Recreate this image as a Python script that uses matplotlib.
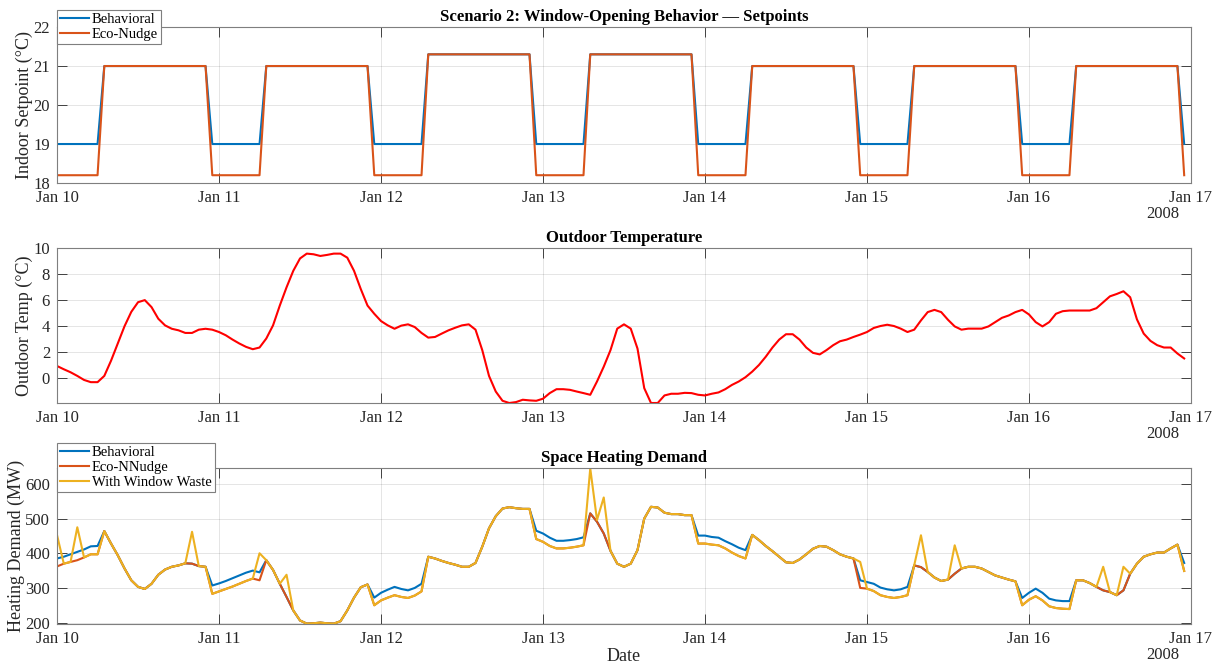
import numpy as np
import pandas as pd
import matplotlib
matplotlib.use("Agg")
import matplotlib.pyplot as plt
import matplotlib.dates as mdates

plt.rcParams['font.family'] = ['Liberation Serif', 'DejaVu Serif']
plt.rcParams['mathtext.fontset'] = 'stix'

######################################
# hourly data, Jan 10 00:00 -> Jan 16 23:00 (2008)
start = "2008-01-10"
n_hours = 168

# setpoint schedule
day_setpoint   = [21, 21, 21.3, 21.3, 21, 21, 21]   # one value per day
night_behav    = 19.0
night_eco      = 18.2
occupied_hours = list(range(7, 23))                 # 07:00 .. 22:00

outdoor_temp = [
    0.94, 0.69, 0.46, 0.18, -0.13, -0.30, -0.30, 0.18, 1.35, 2.67, 4.00, 5.10,
    5.84, 6.00, 5.46, 4.57, 4.06, 3.80, 3.68, 3.48, 3.48, 3.73, 3.80, 3.73,
    3.55, 3.30, 2.97, 2.67, 2.41, 2.23, 2.36, 3.05, 4.06, 5.58, 6.98, 8.25,
    9.20, 9.57, 9.52, 9.39, 9.47, 9.57, 9.57, 9.26, 8.25, 6.85, 5.58, 4.95,
    4.39, 4.06, 3.80, 4.04, 4.14, 3.93, 3.48, 3.12, 3.17, 3.43, 3.68, 3.88,
    4.06, 4.14, 3.73, 2.16, 0.18, -1.02, -1.73, -1.90, -1.83, -1.65, -1.70, -1.73,
    -1.57, -1.14, -0.84, -0.84, -0.89, -1.02, -1.14, -1.27, -0.25, 0.89, 2.16, 3.81,
    4.14, 3.81, 2.28, -0.76, -1.90, -1.90, -1.32, -1.19, -1.19, -1.12, -1.14, -1.27,
    -1.32, -1.19, -1.09, -0.84, -0.51, -0.25, 0.08, 0.51, 1.02, 1.65, 2.36, 2.97,
    3.38, 3.38, 2.97, 2.36, 1.95, 1.83, 2.16, 2.54, 2.84, 2.97, 3.17, 3.35,
    3.55, 3.86, 4.01, 4.11, 4.01, 3.81, 3.55, 3.73, 4.44, 5.08, 5.25, 5.08,
    4.49, 3.98, 3.73, 3.81, 3.81, 3.81, 3.98, 4.31, 4.64, 4.82, 5.08, 5.25,
    4.90, 4.31, 3.98, 4.31, 4.95, 5.15, 5.20, 5.20, 5.20, 5.20, 5.38, 5.84,
    6.29, 6.47, 6.68, 6.22, 4.52, 3.43, 2.87, 2.54, 2.36, 2.36, 1.90, 1.57,
]
outdoor_temp = outdoor_temp[:n_hours - 1] + [1.52]

heat_behavioral = [
    385, 390, 397, 404, 411, 420, 421, 464, 428, 394, 356, 322, 303, 297, 312, 338, 353, 361, 365, 371, 370, 363, 361, 307,
    313, 320, 328, 336, 344, 350, 345, 380, 352, 312, 274, 235, 206, 197, 198, 200, 198, 197, 204, 235, 272, 302, 310, 272,
    286, 295, 303, 297, 293, 300, 312, 390, 385, 378, 372, 367, 361, 361, 372, 419, 472, 507, 529, 533, 530, 528, 528, 465,
    457, 445, 436, 436, 438, 441, 446, 515, 491, 457, 407, 370, 361, 370, 409, 500, 534, 532, 517, 513, 513, 510, 510, 451,
    451, 447, 445, 435, 426, 416, 409, 453, 438, 421, 406, 390, 374, 372, 382, 397, 413, 421, 419, 409, 397, 390, 385, 322,
    317, 312, 301, 296, 293, 296, 303, 365, 360, 346, 330, 320, 324, 341, 356, 361, 361, 356, 346, 336, 330, 324, 319, 271,
    286, 298, 286, 269, 264, 262, 262, 322, 322, 314, 303, 293, 288, 279, 293, 341, 370, 390, 397, 402, 402, 414, 425, 372,
]
heat_eco = [
    362, 370, 375, 380, 388, 397, 397, 464, 428, 394, 356, 322, 303, 297, 312, 338, 353, 361, 365, 371, 370, 363, 361, 283,
    290, 297, 304, 312, 320, 327, 322, 380, 352, 312, 274, 235, 206, 197, 198, 200, 198, 197, 204, 235, 272, 302, 310, 250,
    264, 272, 279, 274, 271, 278, 290, 390, 385, 378, 372, 367, 361, 361, 372, 419, 472, 507, 529, 533, 530, 528, 528, 441,
    433, 421, 414, 414, 416, 419, 423, 515, 491, 457, 407, 370, 361, 370, 409, 500, 534, 532, 517, 513, 513, 510, 510, 428,
    428, 425, 423, 414, 402, 392, 385, 453, 438, 421, 406, 390, 374, 372, 382, 397, 413, 421, 419, 409, 397, 390, 385, 300,
    298, 291, 279, 274, 271, 274, 279, 365, 360, 346, 330, 320, 324, 341, 356, 361, 361, 356, 346, 336, 330, 324, 319, 250,
    266, 276, 264, 247, 242, 240, 239, 322, 322, 314, 303, 293, 288, 279, 293, 341, 370, 390, 397, 402, 402, 414, 425, 349,
]
heat_window = [
    452, 370, 375, 475, 388, 397, 397, 464, 428, 394, 356, 322, 303, 297, 312, 338, 353, 361, 365, 371, 462, 363, 361, 283,
    290, 297, 304, 312, 320, 327, 400, 380, 352, 312, 338, 235, 206, 197, 198, 200, 198, 197, 204, 235, 272, 302, 310, 250,
    264, 272, 279, 274, 271, 278, 290, 390, 385, 378, 372, 367, 361, 361, 372, 419, 472, 507, 529, 533, 530, 528, 528, 441,
    433, 421, 414, 414, 416, 419, 423, 645, 496, 561, 407, 370, 361, 370, 409, 500, 534, 532, 517, 513, 513, 510, 510, 428,
    428, 425, 423, 414, 402, 392, 385, 453, 438, 421, 406, 390, 374, 372, 382, 397, 413, 421, 419, 409, 397, 390, 385, 375,
    298, 291, 279, 274, 271, 274, 279, 365, 452, 346, 330, 320, 324, 423, 356, 361, 361, 356, 346, 336, 330, 324, 319, 250,
    266, 276, 264, 247, 242, 240, 239, 322, 322, 314, 303, 361, 288, 279, 361, 341, 370, 390, 397, 402, 402, 414, 425, 349,
]
######################################
c_blue   = '#0072BD'
c_orange = '#D95319'
c_yellow = '#EDB120'
axcolor  = '#262626'
ticksize = 12
labsize  = 13
lw       = 1.5
######################################

t = pd.date_range(start, periods=n_hours, freq='h')
hour = t.hour.values
day = (t.normalize() - t[0].normalize()).days.values

setpoint_behav = []
setpoint_eco = []
for d, h in zip(day, hour):
    if h in occupied_hours:
        setpoint_behav.append(day_setpoint[d])
        setpoint_eco.append(day_setpoint[d])
    else:
        setpoint_behav.append(night_behav)
        setpoint_eco.append(night_eco)

fig = plt.figure(figsize=(12.14, 6.66), dpi=100)
ax1 = fig.add_axes([0.047, 0.7252, 0.934, 0.2342])
ax2 = fig.add_axes([0.047, 0.3949, 0.934, 0.2327])
ax3 = fig.add_axes([0.047, 0.0631, 0.934, 0.2342])


def style(ax):
    ax.set_xlim(pd.Timestamp("2008-01-10"), pd.Timestamp("2008-01-17"))
    ax.xaxis.set_major_locator(mdates.DayLocator())
    ax.xaxis.set_major_formatter(mdates.DateFormatter('%b %d'))
    ax.tick_params(direction='in', length=7, width=0.6, top=True, right=True,
                   labelsize=ticksize, colors=axcolor, pad=5)
    ax.grid(True, color='#000000', alpha=0.12, linewidth=0.6)
    for s in ax.spines.values():
        s.set_color('#7f7f7f')
        s.set_linewidth(0.8)
    ax.annotate('2008', xy=(0.975, 0), xycoords='axes fraction', xytext=(0, -22),
                textcoords='offset points', ha='center', va='center',
                fontsize=ticksize, color=axcolor)


def add_legend(ax, y_anchor):
    leg = ax.legend(loc='upper left', bbox_to_anchor=(0, y_anchor), borderaxespad=0,
                    fontsize=10.5, fancybox=False, framealpha=1, edgecolor='#7f7f7f',
                    handlelength=2.0, labelspacing=0.12, borderpad=0.2,
                    handletextpad=0.2)
    leg.get_frame().set_linewidth(0.8)


# ---- setpoints
ax1.plot(t, setpoint_behav, color=c_blue, lw=lw, label='Behavioral')
ax1.plot(t, setpoint_eco, color=c_orange, lw=lw, label='Eco-Nudge')
ax1.set_ylim([18, 22])
ax1.set_yticks([18, 19, 20, 21, 22])
style(ax1)
ax1.set_ylabel('Indoor Setpoint (°C)', fontsize=labsize, color=axcolor, labelpad=0)
ax1.set_title('Scenario 2: Window-Opening Behavior — Setpoints', fontsize=12,
              fontweight='bold', pad=4)
add_legend(ax1, 1.109)

# ---- outdoor temperature
ax2.plot(t, outdoor_temp, color='r', lw=lw)
ax2.set_ylim([min(outdoor_temp), 10])
ax2.set_yticks([0, 2, 4, 6, 8, 10])
style(ax2)
ax2.set_ylabel('Outdoor Temp (°C)', fontsize=labsize, color=axcolor, labelpad=0)
ax2.set_title('Outdoor Temperature', fontsize=12, fontweight='bold', pad=4)

# ---- heating demand
ax3.plot(t, heat_behavioral, color=c_blue, lw=lw, label='Behavioral')
ax3.plot(t, heat_eco, color=c_orange, lw=lw, label='Eco-NNudge')
ax3.plot(t, heat_window, color=c_yellow, lw=lw, label='With Window Waste')
allvals = heat_behavioral + heat_eco + heat_window
ax3.set_ylim([min(allvals) - 1, max(allvals) + 1])
ax3.set_yticks([200, 300, 400, 500, 600])
style(ax3)
ax3.set_ylabel('Heating Demand (MW)', fontsize=labsize, color=axcolor, labelpad=0)
ax3.set_xlabel('Date', fontsize=labsize, color=axcolor, labelpad=1)
ax3.set_title('Space Heating Demand', fontsize=12, fontweight='bold', pad=4)
add_legend(ax3, 1.16)

fig.savefig('out.png', dpi=100)
